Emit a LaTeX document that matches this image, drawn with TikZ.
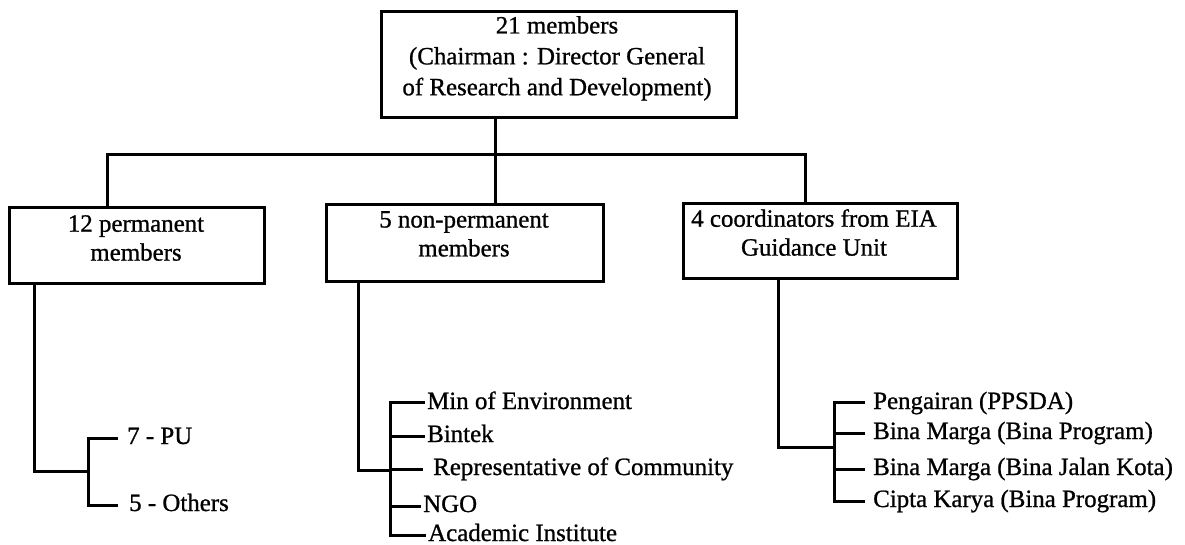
\documentclass[tikz,border=0pt]{standalone}
\usepackage{fontspec}
\setmainfont{Liberation Serif}
\newfontfamily\inkfont{Liberation Serif}[FakeBold=0.9]
\begin{document}
\begin{tikzpicture}[x=1bp,y=-1bp,
  box/.style={draw, line width=2.6bp, anchor=north west, inner sep=0pt},
  boxtext/.style={anchor=north, inner sep=0pt, align=center, font=\inkfont\fontsize{25}{29}\selectfont},
  headtext/.style={boxtext, font=\inkfont\fontsize{25}{31}\selectfont},
  item/.style={anchor=west, inner ysep=0pt, inner xsep=2bp, text height=12bp, text depth=0pt,
               font=\inkfont\fontsize{25}{30}\selectfont},
  wire/.style={line width=3bp}]
\useasboundingbox (0,0) rectangle (1185,545);

% committee head
\node[box, minimum width=355bp, minimum height=106bp] (head) at (380,10) {};
\node[headtext] (headtxt) at (557,16) {21 members\\(Chairman : Director General\\of Research and Development)};

% member groups
\node[box, minimum width=255bp, minimum height=76bp] (b1) at (8,206) {};
\node[boxtext] (b1txt) at (136,215) {12 permanent\\members};
\node[box, minimum width=277bp, minimum height=77bp] (b2) at (325,203) {};
\node[boxtext] (b2txt) at (464,211) {5 non-permanent\\members};
\node[box, minimum width=274bp, minimum height=75bp] (b3) at (682,202) {};
\node[boxtext] (b3txt) at (814,209) {4 coordinators from EIA\\Guidance Unit};

% bus from the head to the groups
\coordinate (jL) at (107,155);
\coordinate (jM) at (495,155);
\coordinate (jR) at (805,155);
\draw[wire] (head.south -| jM) -- (jM);
\draw[wire] (b1.north -| jL) -- (jL) -- (jR) -- (b3.north -| jR);
\draw[wire] (jM) -- (b2.north -| jM);

% permanent members
\coordinate (k1) at (34,471);
\coordinate (s1) at (88,471);
\node[item, inner xsep=9bp] (pu) at (118,438) {7 - PU};
\node[item, inner xsep=11bp] (oth) at (118,505) {5 - Others};
\draw[wire] (b1.south -| k1) -- (k1) -- (s1);
\draw[wire] (pu.west) -- (pu.west -| s1) -- (oth.west -| s1) -- (oth.west);

% non-permanent members
\coordinate (k2) at (358,470);
\coordinate (s2) at (390,470);
\node[item] (env) at (425,403) {Min of Environment};
\node[item] (bintek) at (425,436) {Bintek};
\node[item, inner xsep=10bp] (comm) at (423,469) {Representative of Community};
\node[item] (ngo) at (421,506) {NGO};
\node[item] (acad) at (426,535) {Academic Institute};
\draw[wire] (b2.south -| k2) -- (k2) -- (s2);
\draw[wire] (env.west) -- (env.west -| s2) -- (acad.west -| s2) -- (acad.west);
\draw[wire] (bintek.west -| s2) -- (bintek.west);
\draw[wire] (comm.west -| s2) -- (comm.west);
\draw[wire] (ngo.west -| s2) -- (ngo.west);

% coordinators
\coordinate (k3) at (778,447);
\coordinate (s3) at (834,447);
\node[item, inner xsep=8bp] (ppsda) at (865,403) {Pengairan (PPSDA)};
\node[item, inner xsep=8bp] (bmbp) at (865,433) {Bina Marga (Bina Program)};
\node[item, inner xsep=8bp] (bmjk) at (865,469) {Bina Marga (Bina Jalan Kota)};
\node[item, inner xsep=8bp] (ck) at (865,501) {Cipta Karya (Bina Program)};
\draw[wire] (b3.south -| k3) -- (k3) -- (s3);
\draw[wire] (ppsda.west) -- (ppsda.west -| s3) -- (ck.west -| s3) -- (ck.west);
\draw[wire] (bmbp.west -| s3) -- (bmbp.west);
\draw[wire] (bmjk.west -| s3) -- (bmjk.west);
\end{tikzpicture}
\end{document}
